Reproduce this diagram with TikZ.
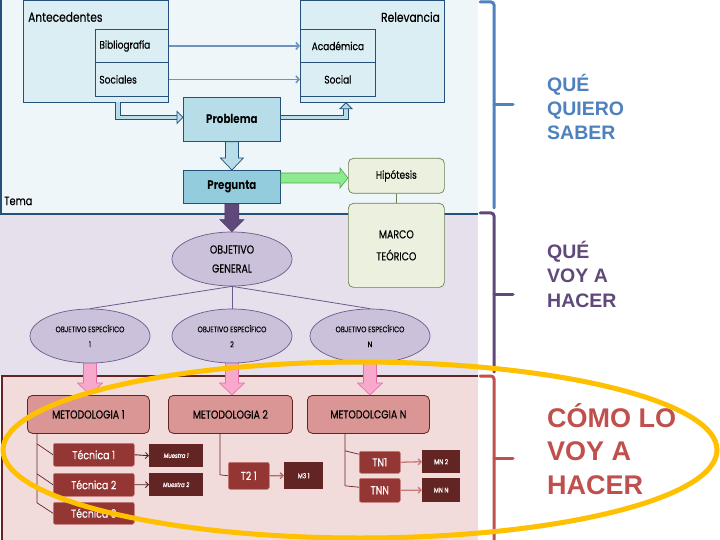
\documentclass[tikz,border=0pt]{standalone}
\usepackage{fontspec}
\setmainfont{Liberation Sans}
\newfontfamily\tw[FakeStretch=0.82,FakeBold=0.4]{Poppins}
\newfontfamily\twb[FakeStretch=0.82]{Poppins}
\usetikzlibrary{calc,arrows.meta,shapes.geometric}
\definecolor{topbg}{HTML}{EEF6FA}
\definecolor{navy}{HTML}{24507A}
\definecolor{antbg}{HTML}{DAEEF3}
\definecolor{probbg}{HTML}{B7DEE8}
\definecolor{pregbg}{HTML}{93CDDD}
\definecolor{midbg}{HTML}{E5E0EC}
\definecolor{ellbg}{HTML}{CCC1DA}
\definecolor{ellbd}{HTML}{6E5A8A}
\definecolor{purp}{HTML}{5F497A}
\definecolor{botbg}{HTML}{F2DCDB}
\definecolor{maroon}{HTML}{632523}
\definecolor{metbg}{HTML}{D99694}
\definecolor{tecbg}{HTML}{943634}
\definecolor{tecbd}{HTML}{C97A78}
\definecolor{hipbg}{HTML}{EBF1DE}
\definecolor{hipbd}{HTML}{6F7F55}
\definecolor{greenar}{HTML}{8EEA8E}
\definecolor{greenbd}{HTML}{4FA84F}
\definecolor{pinkar}{HTML}{F7A8CB}
\definecolor{pinkbd}{HTML}{E36FA8}
\definecolor{qblue}{HTML}{4F81BD}
\definecolor{qpurp}{HTML}{5F497A}
\definecolor{qred}{HTML}{C0504D}
\definecolor{gold}{HTML}{FFC000}
\definecolor{thinbl}{HTML}{6F93BD}
\newcommand{\bdown}[6]{\path[#1] let \p1=#2, \p2=#3 in (\x1-#4pt,\y1) -- (\x1+#4pt,\y1) -- (\x1+#4pt,\y2+#6pt) -- (\x1+#5pt,\y2+#6pt) -- (\x1,\y2) -- (\x1-#5pt,\y2+#6pt) -- (\x1-#4pt,\y2+#6pt) -- cycle;}
\newcommand{\bright}[6]{\path[#1] let \p1=#2, \p2=#3 in (\x1,\y1+#4pt) -- (\x2-#6pt,\y1+#4pt) -- (\x2-#6pt,\y1+#5pt) -- (\x2,\y1) -- (\x2-#6pt,\y1-#5pt) -- (\x2-#6pt,\y1-#4pt) -- (\x1,\y1-#4pt) -- cycle;}
\begin{document}
\begin{tikzpicture}[x=1pt,y=-1pt,
  pbox/.style={draw=navy, line width=0.8pt, fill=antbg, inner sep=0pt, anchor=north west, font=\tw\fontsize{11}{13}\selectfont},
  lbl/.style={inner sep=0pt, font=\tw\fontsize{13}{15}\selectfont},
  qbox/.style={draw=navy, line width=0.8pt, anchor=north west, inner sep=0pt, minimum width=97pt, font=\twb\bfseries\fontsize{12.5}{14}\selectfont},
  gbox/.style={draw=hipbd, line width=0.7pt, fill=hipbg, rounded corners=5pt, anchor=north west, inner sep=0pt, minimum width=96pt, align=center},
  obj/.style={ellipse, draw=ellbd, line width=0.7pt, fill=ellbg, minimum width=120pt, minimum height=54pt, inner sep=0pt, align=center},
  met/.style={draw=maroon, line width=0.8pt, fill=metbg, rounded corners=5pt, anchor=north west, inner sep=0pt, minimum height=38pt, font=\tw\fontsize{11.5}{13}\selectfont},
  tec/.style={draw=tecbd, line width=0.5pt, fill=tecbg, rounded corners=2pt, anchor=north west, inner sep=0pt, text=white, font=\tw\fontsize{11.5}{13}\selectfont},
  mue/.style={fill=maroon, anchor=north west, inner sep=0pt, text=white},
  thinar/.style={thinbl, line width=1.6pt, -{Straight Barb[length=3pt,width=7pt]}},
  hollow/.style={draw=navy, double=probbg, double distance=3.5pt, line width=0.9pt},
  hhead/.style={draw=navy, fill=probbg, line width=0.8pt, line join=miter},
  objline/.style={ellbd, line width=0.8pt},
  metline/.style={maroon, line width=0.7pt},
  tar/.style={line width=0.9pt, -{Straight Barb[length=3pt,width=6pt]}},
  brk/.style={line width=3pt, rounded corners=3pt, line cap=round},
  side/.style={anchor=west, align=left, inner sep=0pt}
]
\useasboundingbox (0,0) rectangle (720,540);
\fill[white] (0,0) rectangle (720,540);
% panels
\fill[topbg] (0,0) rectangle (478,214);
\fill[midbg] (0,214) rectangle (478,376);
\fill[botbg] (2,376) rectangle (478,540);
\draw[navy, line width=1.5pt] (1,0) -- (1,214) -- (478,214);
\draw[maroon, line width=1.5pt] (478,376) -- (2,376) -- (2,540);
% brackets
\draw[qblue, brk] (480,2) -- (494,2) -- (494,208);
\draw[qblue, line width=3pt, line cap=round] (494,105) -- (513,105);
\draw[qpurp, brk] (480,213) -- (494,213) -- (494,372);
\draw[qpurp, line width=3pt, line cap=round] (494,294) -- (513,294);
\draw[qred, brk] (480,376) -- (494,376) -- (494,542);
\draw[qred, line width=3pt, line cap=round] (494,458) -- (513,458);
% side texts
\node[side, text=qblue, font=\fontsize{19.5}{24}\selectfont\bfseries] (q1) at (547,107) {QUÉ\\QUIERO\\SABER};
\node[side, text=qpurp, font=\fontsize{19.5}{24.5}\selectfont\bfseries] (q2) at (547,274) {QUÉ\\VOY A\\HACER};
\node[side, text=qred, font=\fontsize{27}{33.5}\selectfont\bfseries] (q3) at (547,449) {CÓMO LO\\VOY A\\HACER};
% top panel
\node[pbox, minimum width=145pt, minimum height=102pt] (ant) at (23,0) {};
\node[lbl, anchor=west] (antl) at (28,17) {Antecedentes};
\node[pbox, minimum width=73pt, minimum height=33pt, text width=65pt, align=left] (bib) at (95,29) {Bibliografía};
\node[pbox, minimum width=73pt, minimum height=34pt, text width=65pt, align=left] (soc) at (95,62) {Sociales};
\node[pbox, minimum width=144pt, minimum height=102pt] (rel) at (300,0) {};
\node[lbl, anchor=east] (rell) at (440,17) {Relevancia};
\node[pbox, minimum width=75pt, minimum height=33pt] (aca) at (300,29) {Académica};
\node[pbox, minimum width=75pt, minimum height=34pt] (socr) at (300,62) {Social};
\node[lbl, anchor=west, font=\tw\fontsize{12}{14}\selectfont] (tema) at (4,201) {Tema};
\node[qbox, fill=probbg, minimum height=44pt] (prob) at (183,97) {Problema};
\node[qbox, fill=pregbg, minimum height=33pt] (preg) at (183,170) {Pregunta};
\node[gbox, minimum height=35pt, font=\tw\fontsize{11}{13}\selectfont] (hip) at (348,158) {Hipótesis};
\node[gbox, minimum height=84pt, font=\tw\fontsize{11.5}{22}\selectfont] (marco) at (348,203) {MARCO\\TEÓRICO};
\draw[thinar] (bib.east) -- (aca.west);
\draw[thinar] (soc.east) -- (socr.west);
\draw[hollow] ($(ant.south west)+(95,-1)$) |- ($(prob.west)+(-6,-2)$);
\path[hhead] let \p1=($(prob.west)+(0,-2)$) in (\x1,\y1) -- (\x1-6pt,\y1+6pt) -- (\x1-6pt,\y1-6pt) -- cycle;
\draw[hollow] ($(prob.east)+(0,-2)$) -| ($(rel.south west)+(46,6)$);
\path[hhead] let \p1=($(rel.south west)+(46,0)$) in (\x1,\y1) -- (\x1-6pt,\y1-6pt) -- (\x1+6pt,\y1-6pt) -- cycle;
\bdown{fill=probbg, draw=navy, line width=0.7pt}{(prob.south)}{(preg.north)}{6.5}{11.5}{12}
\bright{fill=greenar, draw=greenbd, line width=0.6pt}{($(preg.north east)+(0,8)$)}{(hip.west)}{5}{10}{8}
\draw[hipbd, line width=0.7pt] (hip.south) -- (marco.north);
% middle panel
\node[obj, font=\tw\fontsize{11.5}{19}\selectfont] (og) at (232,259) {OBJETIVO\\GENERAL};
\node[obj, font=\tw\fontsize{8}{15}\selectfont] (e1) at (90,336) {OBJETIVO ESPECÍFICO\\1};
\node[obj, font=\tw\fontsize{8}{15}\selectfont] (e2) at (232,336) {OBJETIVO ESPECÍFICO\\2};
\node[obj, font=\tw\fontsize{8}{15}\selectfont] (en) at (370,336) {OBJETIVO ESPECÍFICO\\N};
\bdown{fill=purp, draw=purp!80!black, line width=0.6pt}{(preg.south)}{(og.north)}{7}{12}{12}
\draw[objline] (og.south) -- (e1.north);
\draw[objline] (og.south) -- (e2.north);
\draw[objline] (og.south) -- (en.north);
% bottom panel
\node[met, minimum width=122pt] (m1) at (27,395) {METODOLOGIA 1};
\node[met, minimum width=124pt] (m2) at (168,395) {METODOLOGIA 2};
\node[met, minimum width=122pt] (mn) at (307,395) {METODOLCGIA N};
\bdown{fill=pinkar, draw=pinkbd, line width=0.6pt}{(e1.south)}{(m1.north)}{6.5}{12.5}{12}
\bdown{fill=pinkar, draw=pinkbd, line width=0.6pt}{(e2.south)}{(m2.north)}{6.5}{12.5}{12}
\bdown{fill=pinkar, draw=pinkbd, line width=0.6pt}{(en.south)}{(mn.north)}{6.5}{12.5}{12}
\node[tec, minimum width=81pt, minimum height=23pt] (t1) at (53,443) {Técnica 1};
\node[tec, minimum width=81pt, minimum height=23pt] (t2) at (53,473) {Técnica 2};
\node[tec, minimum width=81pt, minimum height=22pt] (t3) at (53,502) {Técnica 3};
\node[mue, minimum width=54pt, minimum height=23pt, font=\tw\itshape\fontsize{6.5}{8}\selectfont] (mu1) at (149,444) {Muestra 1};
\node[mue, minimum width=54pt, minimum height=23pt, font=\tw\itshape\fontsize{6.5}{8}\selectfont] (mu2) at (149,473) {Muestra 2};
\node[tec, minimum width=41pt, minimum height=27pt] (t21) at (228,462) {T2 1};
\node[mue, minimum width=39pt, minimum height=27pt, font=\tw\fontsize{7}{8}\selectfont] (m31) at (284,462) {M3 1};
\node[tec, minimum width=41pt, minimum height=22pt] (tn1) at (359,451) {TN1};
\node[tec, minimum width=41pt, minimum height=24pt] (tnn) at (359,478) {TNN};
\node[mue, minimum width=38pt, minimum height=23pt, font=\tw\fontsize{7}{8}\selectfont] (mn2) at (422,450) {MN 2};
\node[mue, minimum width=38pt, minimum height=24pt, font=\tw\fontsize{7}{8}\selectfont] (mnn) at (422,478) {MN N};
% method connectors
\coordinate (v1) at ($(m1.south west)+(10,0)$);
\draw[metline] (v1) -- ($(v1)+(0,69)$) -- (t3.west);
\draw[metline] ($(v1)+(0,10)$) -- (t1.west);
\draw[metline] ($(v1)+(0,40)$) -- (t2.west);
\coordinate (v2) at ($(m2.south west)+(52,0)$);
\draw[metline] (v2) -- ($(v2)+(0,41)$) -- (t21.west);
\coordinate (v3) at ($(mn.south west)+(38,0)$);
\draw[metline] (v3) -- ($(v3)+(0,52)$) -- ($(tnn.west)+(0,-3)$);
\draw[metline] ($(v3)+(0,17)$) -- ($(tn1.west)+(0,-8)$);
\draw[tar, maroon!85!black] (t1.east) -- (mu1.west);
\draw[tar, maroon!85!black] (t2.east) -- (mu2.west);
\draw[tar, line width=1.3pt, color=tecbd!80!maroon] (t21.east) -- (m31.west);
\draw[tar, line width=1.3pt, color=tecbd] (tn1.east) -- (mn2.west);
\draw[tar, line width=1.3pt, color=tecbd] (tnn.east) -- (mnn.west);
% highlight ellipse
\draw[gold, line width=5pt] (360,450) ellipse [x radius=357, y radius=88];
\end{tikzpicture}
\end{document}
